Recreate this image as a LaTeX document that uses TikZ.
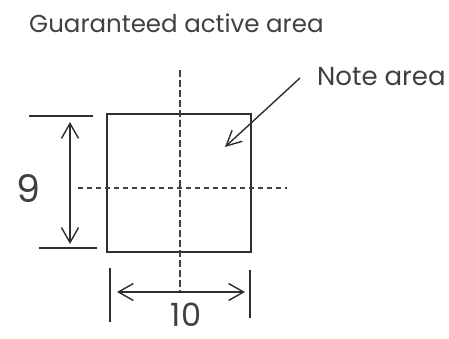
\documentclass[tikz,border=0pt]{standalone}
\usepackage{fontspec}
\setmainfont{Poppins}
\usetikzlibrary{arrows.meta}
\begin{document}
\begin{tikzpicture}[x=1pt,y=-1pt,
  ln/.style={line width=1.4pt,draw=black!82},
  dsh/.style={line width=1.3pt,draw=black!75,dash pattern=on 7pt off 3pt},
  dimarrow/.style={ln,{Straight Barb[length=15pt,width=17pt,line width=1.4pt]}-{Straight Barb[length=15pt,width=17pt,line width=1.4pt]}},
  lbl/.style={inner sep=0pt,text=black!75}]
\useasboundingbox (0,0) rectangle (449,338);
\node[lbl,anchor=west,font=\fontsize{24.5}{26}\selectfont] (title) at (29,23) {Guaranteed active area};
\node[lbl,anchor=west,font=\fontsize{26}{28}\selectfont] (note) at (317,77) {Note area};
\node[draw=black!82,line width=1.4pt,minimum width=144pt,minimum height=138pt,inner sep=0pt] (sq) at (179,183) {};
\coordinate (vt) at (180,70);
\coordinate (vb) at (180,292);
\draw[dsh] (vt) -- (vb);
\coordinate (hl) at (78,188);
\coordinate (hr) at (287,188);
\draw[dsh,dash pattern=on 5pt off 4pt] (hl) -- (hr);
% vertical dimension
\coordinate (e1a) at (29,116); \coordinate (e1b) at (93,116);
\coordinate (e2a) at (39,248); \coordinate (e2b) at (97,248);
\draw[ln] (e1a) -- (e1b);
\draw[ln] (e2a) -- (e2b);
\coordinate (va) at (70,122); \coordinate (vbb) at (70,244);
\draw[dimarrow] (va) -- (vbb);
\node[lbl,font=\fontsize{38}{40}\selectfont] (nine) at (28,189) {9};
% horizontal dimension
\coordinate (f1a) at (110,268); \coordinate (f1b) at (110,322);
\coordinate (f2a) at (250,270); \coordinate (f2b) at (250,318);
\draw[ln] (f1a) -- (f1b);
\draw[ln] (f2a) -- (f2b);
\coordinate (ha) at (117,292); \coordinate (hb) at (245,292);
\draw[dimarrow] (ha) -- (hb);
\node[lbl,anchor=base,font=\fontsize{32}{34}\selectfont] (ten) at (186,326) {10};
% note arrow
\coordinate (na) at (300,78); \coordinate (nb) at (225,147);
\draw[ln,-{Straight Barb[length=15pt,width=15pt,line width=1.4pt]}] (na) -- (nb);
\end{tikzpicture}
\end{document}
